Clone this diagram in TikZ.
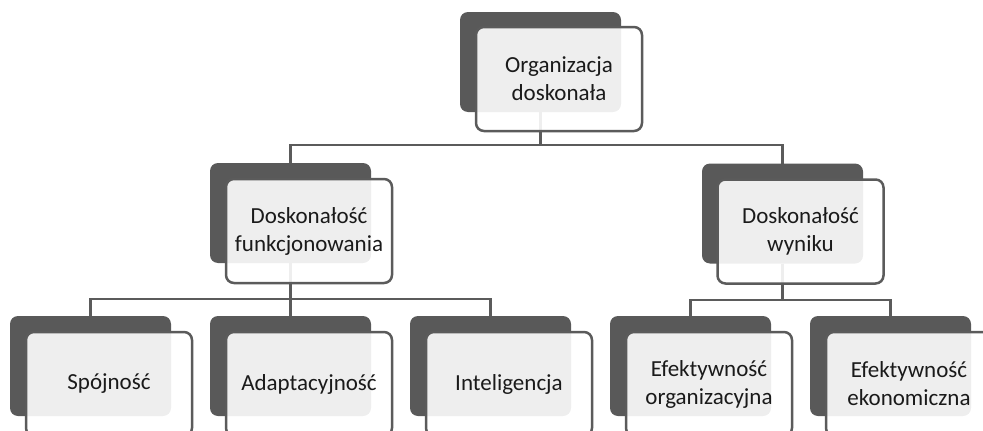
\documentclass[tikz,border=0pt]{standalone}
\usepackage{fontspec}
\setmainfont{Carlito}
\usetikzlibrary{calc}
\definecolor{darkbox}{HTML}{595959}
\definecolor{edgegray}{HTML}{5B5B5B}
\definecolor{txt}{HTML}{1A1A1A}
\begin{document}
\begin{tikzpicture}[x=1pt,y=-1pt,
  backbox/.style={fill=darkbox, rounded corners=8pt, minimum width=161pt, minimum height=100pt, inner sep=0pt, outer sep=0pt},
  frontbox/.style={fill=white, fill opacity=0.9, text opacity=1, draw=edgegray, draw opacity=1, line width=2.5pt, rounded corners=8pt,
    minimum width=166pt, minimum height=104pt, inner sep=0pt, outer sep=0pt, align=center, text=txt,
    font=\fontsize{23}{28}\selectfont},
  conn/.style={draw=edgegray, line width=2.6pt}]
\useasboundingbox (0,0) rectangle (983,431);
\clip (0,0) rectangle (983,431);
% junction coordinates
\coordinate (j1) at (540,145);
\coordinate (j2) at (290,299);
\coordinate (j3) at (782,300);
% back box positions
\path
  (540.5,62) coordinate (p1)
  (290.5,213) coordinate (p21)
  (782.5,213.5) coordinate (p22)
  (90.5,366) coordinate (p31)
  (290.5,366) coordinate (p32)
  (490.5,366) coordinate (p33)
  (690.5,366) coordinate (p34)
  (890.5,366) coordinate (p35);
\node[backbox, fill=none] (b1) at (p1) {};
\node[backbox, fill=none] (b21) at (p21) {};
\node[backbox, fill=none] (b22) at (p22) {};
\node[backbox, fill=none] (b31) at (p31) {};
\node[backbox, fill=none] (b32) at (p32) {};
\node[backbox, fill=none] (b33) at (p33) {};
\node[backbox, fill=none] (b34) at (p34) {};
\node[backbox, fill=none] (b35) at (p35) {};
% connectors
\draw[conn] (b1.south) -- (b1.south |- j1);
\draw[conn] (b21.north) |- (j1) -| (b22.north);
\draw[conn] (b21.south) -- (b21.south |- j2);
\draw[conn] (b31.north) |- (j2) -| (b33.north);
\draw[conn] (b32.north) -- (b32.north |- j2);
\draw[conn] (b22.south) -- (b22.south |- j3);
\draw[conn] (b34.north) |- (j3) -| (b35.north);
% boxes
\foreach \n in {1,21,22,31,32,33,34,35}{
  \fill[darkbox, rounded corners=8pt] (b\n.north west) rectangle (b\n.south east);
}
\node[frontbox] (f1) at ($(p1)+(18.5,17)$) {Organizacja\\doskonała};
\node[frontbox] (f21) at ($(p21)+(18.5,18)$) {Doskonałość\\funkcjonowania};
\node[frontbox] (f22) at ($(p22)+(18,18)$) {Doskonałość\\wyniku};
\node[frontbox] (f31) at ($(p31)+(18.5,18)$) {Spójność};
\node[frontbox] (f32) at ($(p32)+(18.5,18)$) {Adaptacyjność};
\node[frontbox] (f33) at ($(p33)+(18.5,18)$) {Inteligencja};
\node[frontbox] (f34) at ($(p34)+(18.5,18)$) {Efektywność\\organizacyjna};
\node[frontbox] (f35) at ($(p35)+(18.5,18)$) {Efektywność\\ekonomiczna};
\end{tikzpicture}
\end{document}
